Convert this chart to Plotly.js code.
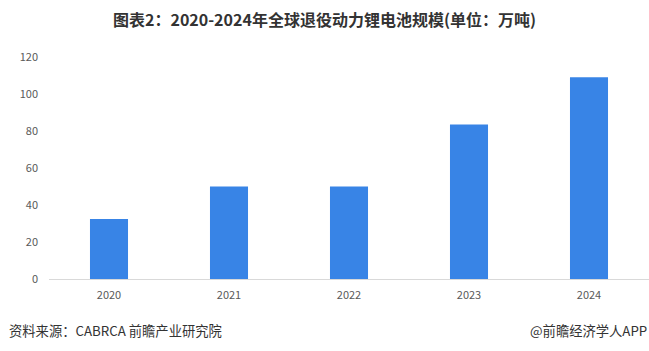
<!DOCTYPE html>
<html>
<head>
<meta charset="utf-8">
<script src="https://cdn.plot.ly/plotly-3.0.1.min.js"></script>
<style>html,body{margin:0;padding:0;background:#fff;}#chart{width:649px;height:351px;}</style>
</head>
<body>
<div id="chart"></div>
<script>
const years = ['2020', '2021', '2022', '2023', '2024'];
const values = [32.5, 50, 50, 83.5, 109];
const yTicks = [0, 20, 40, 60, 80, 100, 120];
const titleText = '图表2：2020-2024年全球退役动力锂电池规模(单位：万吨)';
const sourceText = '资料来源：CABRCA 前瞻产业研究院';
const brandText = '@前瞻经济学人APP';

const cjk = '"Noto Sans CJK SC", "Noto Sans", sans-serif';
const data = [{
  type: 'bar',
  x: years,
  y: values,
  marker: {color: '#3884E6'},
  hoverinfo: 'x+y'
}];
const layout = {
  width: 649, height: 351,
  margin: {l: 49, r: 0, t: 57, b: 72},
  paper_bgcolor: '#fff', plot_bgcolor: '#fff',
  bargap: 0.683,
  showlegend: false,
  title: {text: '<b>' + titleText + '</b>', x: 0.5, xanchor: 'center', y: 0.943, yanchor: 'middle',
          font: {family: cjk, size: 16, color: '#333'}},
  xaxis: {type: 'category', showgrid: false, zeroline: false, showline: true, linecolor: '#d9d9d9', linewidth: 1,
          ticks: '', tickfont: {family: cjk, size: 11, color: '#595959'}, ticklabelstandoff: 6},
  yaxis: {range: [0, 120], tickvals: yTicks, showgrid: false, zeroline: false, showline: false, ticks: '',
          tickfont: {family: cjk, size: 11, color: '#595959'}, ticklabelstandoff: 10},
  annotations: [
    {text: sourceText, xref: 'paper', yref: 'paper', x: -42/600, y: -51.5/222, xanchor: 'left', yanchor: 'middle',
     showarrow: false, font: {family: cjk, size: 13.3, color: '#333'}},
    {text: brandText, xref: 'paper', yref: 'paper', x: 1, y: -51.5/222, xanchor: 'right', yanchor: 'middle',
     showarrow: false, font: {family: cjk, size: 13.3, color: '#333'}}
  ]
};
Plotly.newPlot('chart', data, layout, {displayModeBar: false, staticPlot: true});
</script>
</body>
</html>
